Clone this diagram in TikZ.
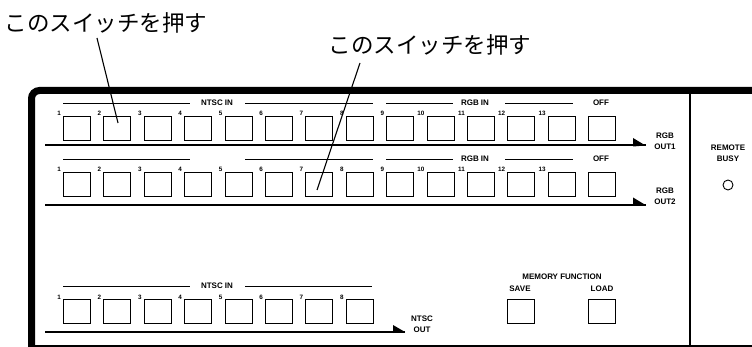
\documentclass[tikz,border=0pt]{standalone}
\usepackage{fontspec}
\setmainfont{Liberation Sans}
\newfontfamily\jpfont{Noto Sans CJK JP}
\begin{document}
\begin{tikzpicture}[x=1pt,y=-1pt,
  btn/.style={draw, line width=0.9pt, minimum width=27pt, minimum height=24pt, inner sep=0pt, anchor=north west},
  lbl/.style={font=\fontsize{8}{11}\selectfont\bfseries, inner sep=0pt, align=center},
  num/.style={font=\fontsize{6.3}{6.5}\selectfont\bfseries, inner sep=0pt, anchor=base east},
  tline/.style={line width=0.8pt},
  sepline/.style={line width=2pt},
  ahead/.style={fill=black},
  frame/.style={line width=7pt, rounded corners=8pt},
  callout/.style={font=\jpfont\fontsize{22.5}{24}\selectfont, inner sep=0pt},
  cline/.style={line width=1.1pt}]
\useasboundingbox (0,0) rectangle (752,347);
\clip (0,0) rectangle (752,347);
% frame
\draw[frame] (31.5,360) -- (31.5,90.5) -- (770,90.5);
\draw[line width=2.5pt] (690,93) -- (690,347);
\draw[line width=2pt] (35,345.8) -- (752,345.8);
% row 1
\foreach \i in {1,...,14}{
  \pgfmathsetmacro\xx{63+40.4*(\i-1)}
  \pgfmathsetmacro\xn{\xx-2}
  \node[btn] (ra\i) at (\xx,116) {};
  \ifnum\i<14 \node[num] (na\i) at (\xn,116) {\i};\fi
}
\draw[tline] (63,103) -- (190,103) (245,103) -- (373,103) (386,103) -- (453,103) (505,103) -- (573,103);
\node[lbl] (t1a) at (217,103) {NTSC IN};
\node[lbl] (t1b) at (475,103) {RGB IN};
\node[lbl] (t1c) at (601,103) {OFF};
\coordinate (s1a) at (45,145.5);
\coordinate (s1b) at (645.5,145.5);
\draw[sepline] (s1a) -- (s1b);
\fill[ahead] (633,138) -- (s1b) -- (633,146.5) -- cycle;
\node[lbl] (o1) at (665,141) {RGB\\OUT1};
% row 2
\foreach \i in {1,...,14}{
  \pgfmathsetmacro\xx{63+40.4*(\i-1)}
  \pgfmathsetmacro\xn{\xx-2}
  \node[btn] (rb\i) at (\xx,172) {};
  \ifnum\i<14 \node[num] (nb\i) at (\xn,172) {\i};\fi
}
\draw[tline] (63,159) -- (190,159) (245,159) -- (373,159) (386,159) -- (453,159) (505,159) -- (573,159);
\node[lbl] (t2b) at (475,159) {RGB IN};
\node[lbl] (t2c) at (601,159) {OFF};
\coordinate (s2a) at (45,205);
\coordinate (s2b) at (645.5,205);
\draw[sepline] (s2a) -- (s2b);
\fill[ahead] (633,197.5) -- (s2b) -- (633,206) -- cycle;
\node[lbl] (o2) at (665,196) {RGB\\OUT2};
% bottom row
\foreach \i in {1,...,8}{
  \pgfmathsetmacro\xx{63+40.4*(\i-1)}
  \pgfmathsetmacro\xn{\xx-2}
  \node[btn] (rc\i) at (\xx,299) {};
  \node[num] (nc\i) at (\xn,299) {\i};
}
\draw[tline] (63,286) -- (190,286) (245,286) -- (372,286);
\node[lbl] (t3a) at (217,286) {NTSC IN};
\coordinate (s3a) at (45,332);
\coordinate (s3b) at (405,332);
\draw[sepline] (s3a) -- (s3b);
\fill[ahead] (393,325) -- (s3b) -- (393,333) -- cycle;
\node[lbl] (o3) at (422,324) {NTSC\\OUT};
% memory function
\node[lbl] (mf) at (562,277) {MEMORY FUNCTION};
\node[lbl] (sv) at (520,289) {SAVE};
\node[lbl] (ld) at (602,289) {LOAD};
\node[btn] (bsave) at (507,299) {};
\node[btn] (bload) at (588,299) {};
% remote
\node[lbl] (rm) at (728,153) {REMOTE\\BUSY};
\node[draw, circle, line width=0.9pt, minimum size=10pt, inner sep=0pt] (led) at (728,185) {};
% callouts
\node[callout] (c1) at (106,23) {このスイッチを押す};
\node[callout] (c2) at (430,45) {このスイッチを押す};
\coordinate (c1s) at (97,38);
\coordinate (c1t) at (118,123);
\coordinate (c2s) at (360,63);
\coordinate (c2t) at (317,190);
\draw[cline] (c1s) -- (c1t);
\draw[cline] (c2s) -- (c2t);
\end{tikzpicture}
\end{document}
